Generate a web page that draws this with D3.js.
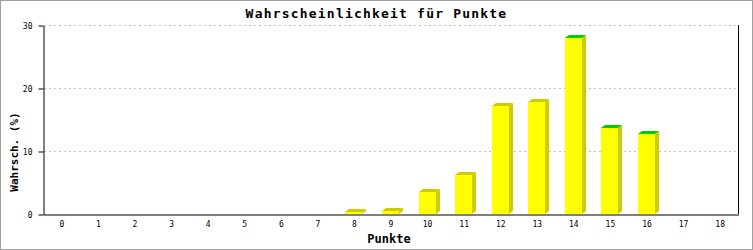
<!DOCTYPE html>
<html>
<head>
<meta charset="utf-8">
<script src="https://cdn.jsdelivr.net/npm/d3@7"></script>
<style>
  body { margin: 0; background: #fff; }
  svg { display: block; }
  text { font-family: "DejaVu Sans Mono", monospace; }
</style>
</head>
<body>
<script>
'use strict';

const width = 753;
const height = 250;

// chart data
const punkte = ["0","1","2","3","4","5","6","7","8","9","10","11","12","13","14","15","16","17","18"];
const wahrsch = [0, 0, 0, 0, 0, 0, 0, 0, 0.3, 0.5, 3.5, 6.2, 17.1, 17.8, 28.0, 13.7, 12.7, 0, 0];
const greenTop = ["14", "15", "16"];
const yTicks = [0, 10, 20, 30];

const margin = {left: 43, right: 15, top: 25, bottom: 36};
const x0 = margin.left, x1 = width - margin.right;
const yBase = height - margin.bottom;

const svg = d3.select("body")
    .append("svg")
    .attr("width", width)
    .attr("height", height);

svg.append("rect")
    .attr("x", 0.5).attr("y", 0.5)
    .attr("width", width - 1).attr("height", height - 1)
    .attr("fill", "#fff")
    .attr("stroke", "#a0a0a0");

let x = d3.scaleBand()
    .domain(punkte)
    .range([x0, x1])
    .paddingInner(0.535)
    .paddingOuter(0.27);

let y = d3.scaleLinear()
    .domain([0, 30])
    .range([yBase, margin.top]);

// grid
svg.append("g").selectAll("line")
    .data(yTicks.filter(d => d > 0))
    .enter()
    .append("line")
    .attr("x1", x0 + 1)
    .attr("x2", x1 - 1)
    .attr("y1", d => Math.round(y(d)) + 0.5)
    .attr("y2", d => Math.round(y(d)) + 0.5)
    .attr("stroke", "#c0c0c0")
    .attr("stroke-dasharray", "2,3");

// bars (3d look)
const dx = 4, dy = 3;
const bw = x.bandwidth();
let bars = svg.append("g")
    .selectAll("g")
    .data(punkte.map((p, i) => ({p: p, v: wahrsch[i]})).filter(d => d.v > 0))
    .enter()
    .append("g");

bars.append("path")
    .attr("fill", "#cccc00")
    .attr("d", d => {
        let bx = Math.round(x(d.p)), top = Math.round(y(d.v));
        return `M${bx + bw},${top}L${bx + bw + dx},${top - dy}L${bx + bw + dx},${yBase - dy}L${bx + bw},${yBase}Z`;
    });

bars.append("path")
    .attr("fill", d => greenTop.includes(d.p) ? "#00cc00" : "#cccc00")
    .attr("d", d => {
        let bx = Math.round(x(d.p)), top = Math.round(y(d.v));
        return `M${bx},${top}L${bx + dx},${top - dy}L${bx + bw + dx},${top - dy}L${bx + bw},${top}Z`;
    });

bars.append("rect")
    .attr("fill", "#ffff00")
    .attr("x", d => Math.round(x(d.p)))
    .attr("y", d => Math.round(y(d.v)))
    .attr("width", bw)
    .attr("height", d => yBase - Math.round(y(d.v)));

// right frame line
svg.append("line")
    .attr("x1", x1 + 0.5).attr("x2", x1 + 0.5)
    .attr("y1", margin.top).attr("y2", yBase)
    .attr("stroke", "#000");

// y axis
let yAxis = svg.append("g")
    .attr("transform", `translate(${x0 + 0.5},0.5)`)
    .call(d3.axisLeft(y).tickValues(yTicks).tickSize(5).tickPadding(6).tickSizeOuter(0));
yAxis.select(".domain").attr("stroke", "#000");
yAxis.selectAll("text").attr("font-size", "8px").attr("fill", "#000")
    .attr("font-family", "DejaVu Sans Mono, monospace");

// x axis
let xAxis = svg.append("g")
    .attr("transform", `translate(0.5,${yBase + 0.5})`)
    .call(d3.axisBottom(x).tickSize(0).tickPadding(7).tickSizeOuter(0));
xAxis.select(".domain").attr("stroke", "#000");
xAxis.selectAll("text").attr("font-size", "8px").attr("fill", "#000")
    .attr("font-family", "DejaVu Sans Mono, monospace");

// titles
svg.append("text")
    .attr("x", width / 2)
    .attr("y", 18)
    .attr("text-anchor", "middle")
    .attr("font-size", "13px")
    .attr("font-weight", "bold")
    .attr("letter-spacing", "1.2px")
    .text("Wahrscheinlichkeit für Punkte");

svg.append("text")
    .attr("x", 389)
    .attr("y", 243)
    .attr("text-anchor", "middle")
    .attr("font-size", "12px")
    .attr("font-weight", "bold")
    .text("Punkte");

svg.append("text")
    .attr("transform", "translate(18,152) rotate(-90)")
    .attr("text-anchor", "middle")
    .attr("font-size", "11px")
    .attr("font-weight", "bold")
    .text("Wahrsch. (%)");
</script>
</body>
</html>
